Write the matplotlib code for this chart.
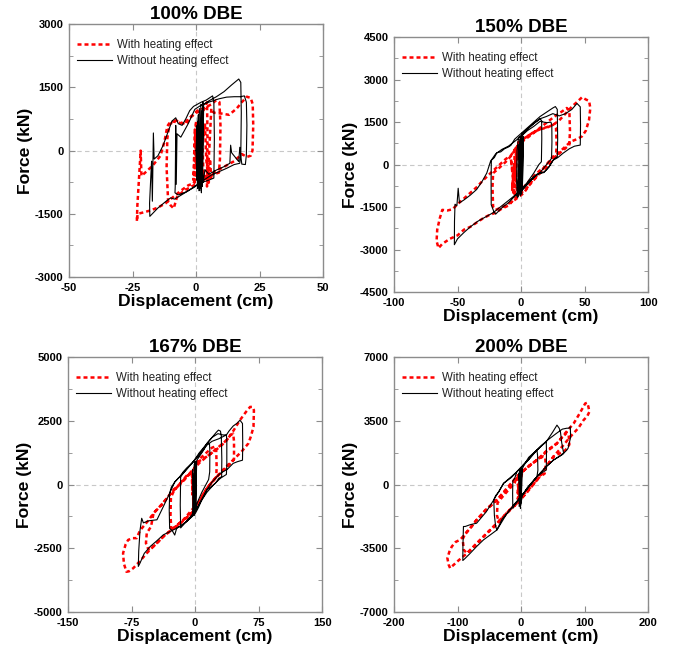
import matplotlib
matplotlib.use("Agg")
import matplotlib.pyplot as plt
from matplotlib.ticker import AutoMinorLocator

plt.rcParams["font.family"] = ["Liberation Sans", "DejaVu Sans"]

# ---------------- data (displacement in cm, force in kN) ----------------
titles = ["100% DBE", "150% DBE", "167% DBE", "200% DBE"]
x_ticks = [[-50, -25, 0, 25, 50],
           [-100, -50, 0, 50, 100],
           [-150, -75, 0, 75, 150],
           [-200, -100, 0, 100, 200]]
y_ticks = [[-3000, -1500, 0, 1500, 3000],
           [-4500, -3000, -1500, 0, 1500, 3000, 4500],
           [-5000, -2500, 0, 2500, 5000],
           [-7000, -3500, 0, 3500, 7000]]

# 100% DBE
dbe100_noheat_x = [0, 0.4, 0.2, 0.9, 0.6, 1.3, 1.1, 1.9, 1.6, 2.3, 2.1, 2.7, 2.5, 3.0,
                   5, 8, 11, 14, 16.8, 17.6, 17.8, 17.6, 17.2,
                   15, 12, 9, 6, 3, 0, -3, -6, -8.5, -10, -12, -15, -18.2,
                   -18.3, -17.8, -17.5, -17.2, -16.8, -16.5, -15, -13, -11, -9.5, -8, -7, -5.5, -4, -2.5, -1, 0.5, 2, 4, 6.5,
                   7, 7.2, 7, 5, 2, -1, -4, -7, -8.3,
                   -8.2, -8, -7.8, -7.5, -6, -3, -0.5, 2, 5, 9, 12, 15, 17.5, 19, 19.8, 20, 19.8, 19.4, 18, 17.2, 16.8,
                   14, 13.6, 13.3, 11, 8, 5, 3.5, 2.8, 1.8, 1.5, 0.8, 0.3, 0]
dbe100_noheat_f = [0, 600, -700, 850, -900, 1000, -950, 1100, -900, 950, -1000, 1150, -850, 1100,
                   1180, 1280, 1400, 1560, 1700, 1620, 900, -100, -300,
                   -330, -420, -500, -580, -700, -820, -950, -1060, -1150, -1120, -1210, -1360, -1560,
                   -1250, -600, -250, -1200, 420, -200, -120, 120, 450, 700, 780, 640, 600, 760, 950, 1050, 1100, 1150, 1200, 1300,
                   1150, 300, -650, -700, -760, -880, -980, -1050, -1000,
                   -850, 600, -800, 400, 320, 650, 980, 1080, 1150, 1230, 1270, 1280, 1280, 1300, 1150, 600, -100, -330, -320, 80, -260,
                   -50, 130, -300, -380, -460, -560, -450, -750, 200, -950, 700, -600, 0]
dbe100_heat_x = [0, -0.5, -1, 0, -0.6, 0.5, 1, -1,
                 -3, -6, -9, -12, -15, -18, -21, -23, -23.3, -23.1, -22.6, -22.2, -21.8, -21.5, -20, -17, -14, -12.5,
                 -11.3, -10, -8, -5, -3, -1, 0.5, 3, 6, 8, 9.2, 9.6, 9.4, 9, 7, 4, 1, -2, -5, -7.5, -8.8, -10, -11,
                 -11.6, -11.3, -10.5, -8, -4, -2, 0, 3, 4.3, 4.5, 4.3, 5, 6, 7, 10, 13, 16, 18, 20, 21.5, 22.3, 22.5,
                 22.2, 21.5, 20, 18, 15, 12, 9, 6, 4, 3, 2.5, 3.5, 4, 5, 5.5, 6, 3, 0, 0]
dbe100_heat_f = [0, 500, -700, 700, -800, 600, -500, -780,
                 -820, -950, -1100, -1250, -1350, -1420, -1470, -1500, -1680, -1300, -800, -400, 0, -600, -520, -350, -120, 200,
                 580, 700, 680, 640, 750, 860, 950, 1000, 1100, 1200, 1150, 600, -200, -520, -560, -650, -760, -860, -960, -1100, -1370, -1300, -1200,
                 -400, 300, 620, 720, 620, 800, 900, 960, 1150, 400, -850, -200, 1000, 900, 880, 850, 1000, 1150, 1280, 1250, 1100, 600,
                 0, -120, -150, -80, -250, -350, -450, -560, -500, -720, 200, 620, -200, -760, -200, -700, -600, -300, 0]

# 150% DBE
dbe150_noheat_x = [0, -1, -1.5, 0, -0.5, 1, 0.5, -2, -2.5, 1.5, 1, 2, -3, 0.5,
                   5, 10, 15, 16.2, 16.3, 16, 14, 10, 5, 0, -5, -10, -15, -20, -21.5, -23.5, -23.6, -23.4, -21, -19, -16, -13,
                   -10, -8, -5, -2, 0, 5, 10, 15, 20, 25, 27, 28.5, 28.8, 28.5, 26, 22, 20, 18, 15, 12, 8, 4, 0, -4, -8, -15,
                   -22, -28, -34, -40, -45, -50, -52.5, -52.4, -52, -50.5, -49.5, -48.5, -45, -40, -35, -31, -27, -24, -20, -15,
                   -10, -5, 0, 5, 10, 15, 20, 23.5, 24.2, 24.3, 24, 20, 15, 10, 5, 0, -3, -3.5, -3.2, -2, 2, 6, 10, 15, 20, 25,
                   30, 35, 40, 44, 46.6, 46.8, 46.6, 42, 38, 33, 29, 25, 22, 18, 14, 10, 5, 1, 0.5, 0, -0.5, -1, 0]
dbe150_noheat_f = [0, 900, -1000, 1000, -1100, 1050, -1050, 700, -1150, 900, -900, 1000, -1100, 1100,
                   1250, 1450, 1620, 1550, 900, 100, 0, -300, -620, -900, -1120, -1350, -1520, -1750, -1650, -1420, -500, 150, 250, 420, 450, 560,
                   620, 680, 900, 1020, 1100, 1300, 1500, 1700, 1850, 2000, 2050, 1950, 900, 280, 200, -80, -180, -260, -300, -350, -520, -720, -900, -1050, -1200, -1450,
                   -1700, -1850, -2000, -2200, -2400, -2620, -2830, -2000, -1400, -1450, -835, -1350, -1250, -1080, -880, -620, -300, 120, 380, 540,
                   650, 820, 1000, 1200, 1350, 1530, 1480, 1500, 1400, 800, 220, 0, -280, -450, -700, -950, -1150, -600, 500, 950, 1100, 1300, 1450, 1620, 1700, 1800,
                   1720, 1800, 1950, 2160, 2040, 1400, 690, 650, 560, 400, 250, 150, -80, -280, -320, -450, -680, -880, 800, -950, 900, -1000, 0]
dbe150_heat_x = [0, -5, -6, -4, -7, -3, -5, -8, -6, -2, -7, -4,
                 2, 8, 15, 22, 26, 27.5, 28, 27.5, 25, 20, 15, 10, 5, 0, -5, -10, -15, -20, -25, -30, -35, -40, -45, -50, -56,
                 -62, -65, -66.5, -66, -64, -62, -58, -54, -50, -45, -40, -35, -30, -24, -18, -12, -8, -4, 0, 5, 10, 15, 20,
                 25, 30, 35, 40, 45, 48, 51, 53.5, 54.5, 53.5, 51, 48, 44, 39, 33, 28, 25, 20, 12.5, 7, 2, -5, -13.8, -20,
                 -22, -22.5, -22, -18, -12, -8, -3, 2, 8, 15, 22, 28, 33, 36, 38, 38.5, 38, 33, 28, 22, 15, 10, 5, 0, -3,
                 -4, -5]
dbe150_heat_f = [0, 500, -1000, 300, -800, 600, -1100, 200, -500, 800, -900, 400,
                 900, 1100, 1250, 1350, 1420, 1300, 700, 300, 200, -100, -300, -500, -800, -1000, -1200, -1450, -1550, -1700, -1780, -1900, -2050, -2200, -2300, -2500, -2620,
                 -2800, -2950, -2700, -2300, -1900, -1600, -1620, -1580, -1400, -1200, -1000, -800, -560, -300, -50, 200, 320, 600, 850, 1000, 1150, 1250, 1300,
                 1400, 1560, 1800, 2050, 2250, 2380, 2300, 2250, 2000, 1580, 1200, 1000, 900, 810, 560, 350, 280, 0, -420, -700, -1010, -1250, -1480, -1600,
                 -1500, -800, -300, -150, 100, 300, 650, 850, 1050, 1300, 1550, 1750, 1900, 2000, 1900, 1200, 700, 500, 320, 0, -200, -400, -650, -900, -1000,
                 -300, 0]

# 167% DBE
dbe167_noheat_x = [0, -1, -2, 0, -1, 1, 0, -3, -2.5, 1.5, 0.5, 2,
                   6, 10, 14, 17, 17.5, 17.3, 16, 12, 8, 4, 0, -4, -8, -12, -15, -17, -17.5, -17, -15, -10, -6, -3, 0, 5, 10,
                   15, 20, 25, 27.6, 30, 31, 31.6, 31.4, 28, 24, 20, 16, 13.8, 8, 4, 0, -5, -10, -15, -21.7, -24, -27, -30, -30.5,
                   -30, -28, -24, -20, -18, -14, -10, -4, 0, 5, 10, 14, 20, 27, 33, 37, 40, 45, 50, 53, 56, 56.3, 56, 50, 45, 38,
                   29.6, 20, 13.8, 6, -2, -10, -21.7, -30, -37.5, -45, -53, -60, -65, -67, -66.5, -65, -63, -61, -55, -45, -38, -30,
                   -24, -18, -10, -4, 5, 14, 20, 28, 34, 37, 37.5, 37.5, 37, 30, 22, 14, 6, 1, 0.5, -0.5, 0]
dbe167_noheat_f = [0, 800, -1100, 900, -1200, 850, -1000, 600, -1150, 900, -900, 950,
                   1150, 1350, 1600, 1620, 1300, 500, 200, -50, -300, -600, -950, -1200, -1350, -1500, -1620, -1700, -800, 300, 400, 600, 750, 850, 1000, 1250, 1450,
                   1650, 1850, 2050, 2140, 2100, 1900, 1000, 310, 250, 50, -50, -150, -210, -600, -900, -1150, -1300, -1450, -1600, -1710, -1980, -1800, -1720, -1000,
                   -340, -100, 100, 250, 310, 500, 650, 835, 1000, 1200, 1420, 1620, 1850, 2000, 1950, 1950, 2100, 2300, 2420, 2530, 2400, 1600, 960, 900, 835, 600,
                   440, 100, -210, -700, -1190, -1450, -1710, -1850, -1970, -2200, -2430, -2700, -3080, -3210, -2600, -1800, -1320, -1500, -1420, -1380, -900, -340,
                   100, 310, 600, 835, 1150, 1550, 1700, 1800, 1900, 1950, 1700, 800, 400, 250, 0, -300, -700, -1000, 900, -1100, 0]
dbe167_heat_x = [0, -1, -2, 0, -1.5, 0.5, -0.5, -3, -2, 1,
                 5, 10, 15, 20, 24, 25, 25.5, 25, 20, 15, 10, 5, 0, -5, -10, -15, -20, -25, -28, -29, -28.5, -25, -20, -15, -10,
                 -6, 0, 6, 13.8, 20, 30, 37.5, 42, 45, 46, 46, 44, 38, 30, 25.6, 15, 6, 0, -6, -13.8, -25, -37.5, -45, -50, -55,
                 -58, -57, -52, -49, -44, -37, -25.7, -15, -6, 5, 13.8, 25, 37.5, 45, 53, 60, 65, 68, 69.5, 69, 66, 63, 55, 45,
                 35, 25.6, 15, 6, -4, -13.8, -25, -37.5, -47, -57, -65, -73, -78, -81, -84, -85, -82, -79, -74, -69, -65, -60,
                 -55, -49, -40, -30, -20, -10, -4, -3, -2, 0]
dbe167_heat_f = [0, 500, -900, 600, -1000, 700, -1100, 300, -800, 800,
                 1000, 1150, 1300, 1450, 1500, 1300, 700, 300, 100, -100, -350, -650, -950, -1150, -1300, -1450, -1600, -1700, -1750, -1200, -500, -250, -50, 150, 350,
                 450, 700, 950, 1100, 1250, 1500, 1750, 1950, 2000, 1700, 1000, 900, 700, 450, 310, -100, -600, -950, -1200, -1380, -1700, -2040, -2300, -2450, -2550,
                 -2300, -1900, -1650, -1120, -950, -700, -210, 100, 440, 850, 1100, 1400, 1750, 2100, 2530, 2850, 3050, 3050, 2920, 2270, 1900, 1620, 1300, 970,
                 650, 310, -100, -600, -1000, -1380, -1700, -2040, -2350, -2690, -3000, -3280, -3400, -3420, -3100, -2690, -2350, -2170, -2100, -2100, -1800, -1600,
                 -1400, -1120, -800, -400, -50, 300, 500, -400, 200, 0]

# 200% DBE
dbe200_noheat_x = [0, -2, -3, 0, -1, 1, -4, -2, 2, 0, -3,
                   5, 12, 20, 25, 26, 26.5, 25, 15, 4, -5, -10, -13, -13.3, -13, -10, -6.6, 0, 10, 25, 32, 39.7, 40, 39.7, 35, 25,
                   15, 4, -10, -22, -30, -38, -40, -42, -43, -40, -35, -27.6, -15, -6.6, 5, 15, 25, 39.7, 50, 56.5, 60, 62, 64, 67,
                   60, 51, 40, 25, 10, 4, -10, -22, -38, -50, -59, -70, -80, -88, -91.7, -91.5, -90.7, -88, -80, -70, -55, -43,
                   -27.6, -15, -6.6, 5, 25, 40, 55, 65, 72, 75, 77.5, 78, 74, 72, 65, 51, 40, 25, 10, 2, -1, 0, -2, 0]
dbe200_noheat_f = [0, 800, -1200, 900, -1300, 850, 600, -1100, 800, -1000, 500,
                   1100, 1500, 1750, 1900, 1600, 800, 440, 0, -475, -900, -1100, -1300, -500, 200, 350, 710, 950, 1300, 1900, 2150, 2360, 1800, 800, 700, 440,
                   0, -475, -1050, -1570, -1900, -2490, -2300, -1700, -840, -600, -400, 70, 400, 710, 1100, 1500, 1900, 2360, 2900, 3270, 3100, 2900, 2300, 1720,
                   1550, 1350, 1000, 440, -200, -475, -1100, -1570, -2490, -2800, -3030, -3400, -3770, -4050, -4170, -3300, -2300, -2300, -2200, -2120, -1500, -840,
                   70, 450, 710, 1150, 1900, 2400, 2800, 3050, 3100, 3100, 3180, 2600, 2000, 1900, 1650, 1350, 1000, 440, -150, -600, -1200, 800, -1000, 0]
dbe200_heat_x = [0, -3, -5, -2, -4, 0, -6, 2,
                 8, 15, 25, 35, 38, 39, 37, 30, 25, 15, 5, -1.3, -10, -20, -27.6, -35, -38, -37, -30, -20, -10, -6.6, 5, 15, 25,
                 40, 56.5, 65, 72, 75, 76, 70, 60, 51, 40, 25, 10, -1.3, -15, -27.6, -40, -50, -59, -70, -85, -90, -92, -88, -80,
                 -70, -55, -38, -20, -6.6, 10, 25, 40, 56.5, 70, 82.8, 92, 101, 104, 106, 107.5, 104, 98.5, 90, 77.5, 65, 51, 40,
                 25, 10, -1.3, -15, -27.6, -45, -59, -72, -85, -98, -109, -111.7, -114, -116, -113, -109, -103, -96, -85, -70, -55,
                 -38, -20, -6.6, -4, -2]
dbe200_heat_f = [0, 400, -800, 600, -1000, 500, -500, 700,
                 900, 1100, 1350, 1550, 1500, 900, 600, 450, 260, -150, -500, -840, -1150, -1450, -1760, -2000, -1700, -1000, -700, -300, 100, 440, 800, 1100, 1350,
                 1800, 2270, 2600, 2850, 2700, 2200, 1900, 1700, 1540, 1000, 260, -400, -840, -1300, -1760, -2250, -2550, -2850, -3250, -3770, -3600, -3000, -2700, -2400,
                 -1940, -1400, -840, -100, 440, 950, 1350, 1850, 2270, 2850, 3360, 3900, 4460, 4500, 4280, 4000, 3750, 3550, 3100, 2630, 2100, 1540, 1000,
                 260, -350, -840, -1300, -1760, -2350, -2850, -3300, -3770, -4150, -4500, -4590, -4400, -4040, -3700, -3400, -3150, -3030, -2600, -1940, -1350,
                 -840, -200, 440, -300, 0]

heat_x = [dbe100_heat_x, dbe150_heat_x, dbe167_heat_x, dbe200_heat_x]
heat_f = [dbe100_heat_f, dbe150_heat_f, dbe167_heat_f, dbe200_heat_f]
noheat_x = [dbe100_noheat_x, dbe150_noheat_x, dbe167_noheat_x, dbe200_noheat_x]
noheat_f = [dbe100_noheat_f, dbe150_noheat_f, dbe167_noheat_f, dbe200_noheat_f]

# axes boxes in figure fraction [left, bottom, width, height]
boxes = [[0.1024, 0.577, 0.377, 0.386],
         [0.5846, 0.5542, 0.377, 0.389],
         [0.1009, 0.0656, 0.377, 0.389],
         [0.5846, 0.0656, 0.377, 0.389]]

fig = plt.figure(figsize=(6.74, 6.55), dpi=100)
spine_gray = "#8c8c8c"

for i in range(4):
    ax = fig.add_axes(boxes[i])
    xt, yt = x_ticks[i], y_ticks[i]

    ax.axhline(0, color="#c8c8c8", lw=0.8, dashes=(4, 3), zorder=0)
    ax.axvline(0, color="#c8c8c8", lw=0.8, dashes=(4, 3), zorder=0)

    ax.plot(heat_x[i], heat_f[i], color="red", lw=1.8, linestyle=(0, (1.6, 1.2)),
            label="With heating effect", zorder=2)
    ax.plot(noheat_x[i], noheat_f[i], color="black", lw=0.8,
            label="Without heating effect", zorder=3)

    ax.set_xlim(xt[0], xt[-1])
    ax.set_ylim(yt[0], yt[-1])
    ax.set_xticks(xt)
    ax.set_yticks(yt)
    ax.set_xticklabels([str(v) for v in xt])
    ax.set_yticklabels([str(v) for v in yt])
    ax.yaxis.set_minor_locator(AutoMinorLocator(2))

    ax.tick_params(which="both", direction="in", top=True, right=True,
                   color=spine_gray, labelsize=8, pad=4)
    ax.tick_params(which="major", length=4.5)
    ax.tick_params(which="minor", length=3)
    for lab in ax.get_xticklabels() + ax.get_yticklabels():
        lab.set_fontweight("bold")
    for sp in ax.spines.values():
        sp.set_color(spine_gray)
        sp.set_linewidth(1.0)

    ax.set_title(titles[i], fontsize=13.5, fontweight="bold", pad=4)
    ax.set_xlabel("Displacement (cm)", fontsize=12.6, fontweight="bold", labelpad=1)
    ax.set_ylabel("Force (kN)", fontsize=12.6, fontweight="bold", labelpad=1)

    leg = ax.legend(loc="upper left", bbox_to_anchor=(0.0, 0.975), frameon=False,
                    fontsize=8.3, handlelength=3.0, handletextpad=0.5,
                    labelspacing=0.35, borderaxespad=0.3)
    for t in leg.get_texts():
        t.set_color("#222222")

fig.savefig("out.png", dpi=100)
